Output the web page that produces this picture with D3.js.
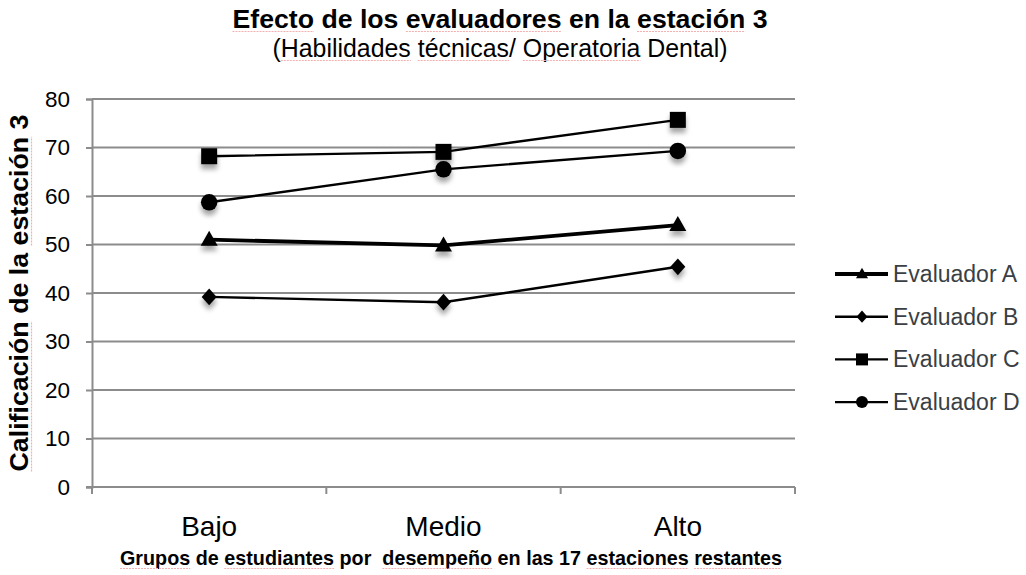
<!DOCTYPE html>
<html>
<head>
<meta charset="utf-8">
<script src="https://cdn.jsdelivr.net/npm/d3@7"></script>
<style>
  html, body { margin: 0; padding: 0; background: #fff; }
  svg { display: block; font-family: "Liberation Sans", Arial, sans-serif; }
</style>
</head>
<body>
<svg id="chart" width="1026" height="575"></svg>
<script>
// Grupos de desempeño (eje X)
const categories = ["Bajo", "Medio", "Alto"];

// Calificación media por evaluador en cada grupo
const evaluadorA = [51.0, 49.8, 54.0];
const evaluadorB = [39.2, 38.1, 45.4];
const evaluadorC = [68.2, 69.1, 75.7];
const evaluadorD = [58.7, 65.5, 69.3];

const seriesNames = ["Evaluador A", "Evaluador B", "Evaluador C", "Evaluador D"];
const seriesShapes = ["triangle", "diamond", "square", "circle"];
const yTicks = [0, 10, 20, 30, 40, 50, 60, 70, 80];

const series = [evaluadorA, evaluadorB, evaluadorC, evaluadorD].map((values, i) => ({
  name: seriesNames[i], shape: seriesShapes[i], values
}));

const svg = d3.select("#chart");
const plot = { left: 92, right: 795, top: 99, bottom: 487 };

const x = d3.scaleBand().domain(categories).range([plot.left, plot.right]);
const y = d3.scaleLinear().domain([0, 80]).range([plot.bottom, plot.top]);

// soft shadow under the markers
const defs = svg.append("defs");
const f = defs.append("filter").attr("id", "shadow")
  .attr("x", "-80%").attr("y", "-80%").attr("width", "260%").attr("height", "300%");
f.append("feDropShadow").attr("dx", 0).attr("dy", 5).attr("stdDeviation", 2.5)
  .attr("flood-color", "#000").attr("flood-opacity", 0.35);

const gridColor = "#8c8c8c";

// horizontal gridlines
svg.append("g").selectAll("line").data(yTicks.filter(d => d > 0)).join("line")
  .attr("x1", plot.left).attr("x2", plot.right)
  .attr("y1", d => y(d)).attr("y2", d => y(d))
  .attr("stroke", gridColor).attr("stroke-width", 2);

// Y axis
const yAxis = svg.append("g").attr("transform", `translate(${plot.left},0)`)
  .call(d3.axisLeft(y).tickValues(yTicks).tickSize(6).tickPadding(16));
yAxis.select(".domain").attr("stroke", gridColor).attr("stroke-width", 2);
yAxis.selectAll(".tick line").attr("stroke", gridColor).attr("stroke-width", 2);
yAxis.selectAll(".tick text").attr("font-size", 22.5).attr("fill", "#000")
  .attr("font-family", "Liberation Sans, Arial, sans-serif");

// X axis: ticks at the band boundaries
const xAxisG = svg.append("g").attr("transform", `translate(0,${plot.bottom})`);
xAxisG.append("line").attr("x1", plot.left - 6).attr("x2", plot.right)
  .attr("stroke", gridColor).attr("stroke-width", 2);
const boundaries = categories.map(c => x(c)).concat([x(categories[categories.length - 1]) + x.bandwidth()]);
xAxisG.selectAll("line.tk").data(boundaries).join("line").attr("class", "tk")
  .attr("x1", d => d).attr("x2", d => d).attr("y1", 0).attr("y2", 7)
  .attr("stroke", gridColor).attr("stroke-width", 2);
xAxisG.selectAll("text").data(categories).join("text")
  .attr("x", d => x(d) + x.bandwidth() / 2).attr("y", 49)
  .attr("text-anchor", "middle").attr("font-size", 28).attr("fill", "#000")
  .text(d => d);

// marker shapes (s = nominal marker width in px)
function symbolFor(shape, s) {
  const h = s / 2;
  if (shape === "diamond") {
    const v = h * 1.12;
    return `M0,${-v}L${h},0L0,${v}L${-h},0Z`;
  }
  if (shape === "square") return `M${-h},${-h}H${h}V${h}H${-h}Z`;
  if (shape === "circle") return d3.symbol().type(d3.symbolCircle).size(Math.PI * h * h)();
  // triangle, centred on its base/centroid region
  const th = s * 0.88;
  return `M0,${-th * 0.6}L${h},${th * 0.4}L${-h},${th * 0.4}Z`;
}
const markerSize = { triangle: 17, diamond: 15, square: 16, circle: 16.5 };
const legendMarkerSize = { triangle: 12, diamond: 11, square: 12, circle: 12 };

const cx = c => x(c) + x.bandwidth() / 2;
const line = d3.line().x((d, i) => cx(categories[i])).y(d => y(d));

const sg = svg.append("g").selectAll("g").data(series).join("g");
sg.append("path")
  .attr("d", d => line(d.values))
  .attr("fill", "none").attr("stroke", "#000")
  .attr("stroke-width", d => d.shape === "triangle" ? 3.8 : 2.4);
sg.each(function (s) {
  d3.select(this).selectAll("path.mk").data(s.values).join("path").attr("class", "mk")
    .attr("transform", (v, i) => `translate(${cx(categories[i])},${y(v)})`)
    .attr("d", symbolFor(s.shape, markerSize[s.shape]))
    .attr("fill", "#000")
    .attr("filter", "url(#shadow)");
});

// legend
const lg = svg.append("g").selectAll("g").data(series).join("g")
  .attr("transform", (d, i) => `translate(835,${274 + i * 42.7})`);
lg.append("line").attr("x1", 0).attr("x2", 53)
  .attr("stroke", "#000").attr("stroke-width", d => d.shape === "triangle" ? 3.8 : 2.4);
lg.append("path").attr("transform", "translate(27,0)")
  .attr("d", d => symbolFor(d.shape, legendMarkerSize[d.shape])).attr("fill", "#000");
lg.append("text").attr("x", 58).attr("y", 8)
  .attr("font-size", 23).attr("fill", "#3a3f45").text(d => d.name);

// text block with fixed rendered length and spell-check style underlines
function label(g, str, opts) {
  const t = g.append("text")
    .attr("x", opts.x).attr("y", opts.y)
    .attr("text-anchor", "middle")
    .attr("font-size", opts.size)
    .attr("font-weight", opts.bold ? "bold" : "normal")
    .attr("fill", "#000")
    .attr("xml:space", "preserve")
    .attr("textLength", opts.length)
    .attr("lengthAdjust", "spacingAndGlyphs")
    .text(str);
  const node = t.node();
  (opts.marked || []).forEach(w => {
    const i0 = str.indexOf(w);
    if (i0 < 0) return;
    const a = node.getStartPositionOfChar(i0).x;
    const b = node.getEndPositionOfChar(i0 + w.length - 1).x;
    g.append("line")
      .attr("x1", a).attr("x2", b)
      .attr("y1", opts.y + 3.5).attr("y2", opts.y + 3.5)
      .attr("stroke", "#f4b0b0").attr("stroke-width", 1.2)
      .attr("stroke-dasharray", "2 1");
  });
}

// titles
label(svg.append("g"), "Efecto de los evaluadores en la estación 3",
  { x: 500, y: 28, size: 25, bold: true, length: 535, marked: ["Efecto", "evaluadores", "estación"] });
label(svg.append("g"), "(Habilidades técnicas/ Operatoria Dental)",
  { x: 500, y: 57, size: 25, bold: false, length: 455, marked: ["Habilidades", "técnicas", "Operatoria"] });

label(svg.append("g").attr("transform", `translate(0,${(plot.top + plot.bottom) / 2}) rotate(-90)`),
  "Calificación de la estación 3",
  { x: 0, y: 28, size: 26, bold: true, length: 357, marked: ["Calificación", "estación"] });

label(svg.append("g"), "Grupos de estudiantes por  desempeño en las 17 estaciones restantes",
  { x: 451, y: 565, size: 21, bold: true, length: 662,
    marked: ["Grupos", "estudiantes", "desempeño", "estaciones", "restantes"] });
</script>
</body>
</html>
